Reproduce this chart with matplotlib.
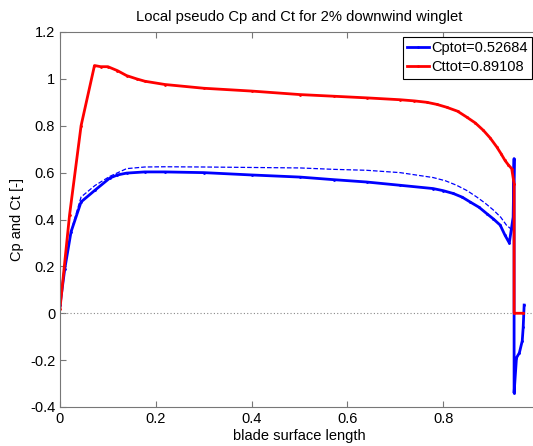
import numpy as np
from matplotlib import pyplot as plt
from matplotlib.ticker import FormatStrFormatter

plt.rcParams['font.family'] = ['Liberation Sans', 'DejaVu Sans']
plt.rcParams['font.size'] = 10

# local thrust coefficient along the blade surface
ct_x = [0, 0.02, 0.044, 0.072, 0.085, 0.10, 0.12, 0.139, 0.16, 0.177, 0.219, 0.30, 0.40,
        0.501, 0.571, 0.64, 0.71, 0.74, 0.766, 0.787, 0.807, 0.83, 0.849, 0.867, 0.884,
        0.898, 0.912, 0.921, 0.929, 0.936, 0.943, 0.948, 0.948, 0.967]
ct_y = [0.02, 0.42, 0.80, 1.057, 1.052, 1.052, 1.035, 1.014, 1.0, 0.99, 0.976, 0.96, 0.948,
        0.933, 0.926, 0.919, 0.911, 0.906, 0.90, 0.891, 0.879, 0.862, 0.837, 0.812, 0.78,
        0.748, 0.709, 0.68, 0.652, 0.633, 0.617, 0.553, 0.0, 0.0]

# local power coefficient
cp_x = [0, 0.01, 0.023, 0.044, 0.073, 0.104, 0.12, 0.139, 0.177, 0.219, 0.30, 0.40, 0.501,
        0.571, 0.64, 0.71, 0.779, 0.80, 0.821, 0.84, 0.856, 0.875, 0.891, 0.905, 0.919,
        0.929, 0.938, 0.946, 0.948, 0.948, 0.953, 0.959, 0.965, 0.967, 0.969]
cp_y = [0.035, 0.19, 0.347, 0.475, 0.525, 0.577, 0.59, 0.598, 0.603, 0.603, 0.60, 0.59, 0.581,
        0.570, 0.56, 0.546, 0.532, 0.523, 0.511, 0.495, 0.475, 0.452, 0.425, 0.402, 0.376,
        0.333, 0.30, 0.41, 0.66, -0.34, -0.19, -0.169, -0.118, -0.06, 0.035]

# reference Cp (no winglet), dashed
cpref_x = [0, 0.01, 0.023, 0.044, 0.073, 0.104, 0.139, 0.177, 0.219, 0.30, 0.40, 0.501,
           0.571, 0.64, 0.71, 0.779, 0.805, 0.828, 0.85, 0.87, 0.888, 0.905, 0.92, 0.932,
           0.943, 0.947]
cpref_y = [0.035, 0.19, 0.35, 0.496, 0.545, 0.584, 0.617, 0.624, 0.625, 0.624, 0.622, 0.62,
           0.614, 0.61, 0.60, 0.579, 0.565, 0.546, 0.523, 0.496, 0.469, 0.44, 0.41, 0.376,
           0.357, 0.45]

cp_tot = 0.52684
ct_tot = 0.89108

fig = plt.figure(figsize=(5.33, 4.46), dpi=100)
ax = fig.add_axes([60/533, 39/446, 479/533, 375/446])

ax.axhline(0, color='#888888', lw=0.8, ls=(0, (1, 2)))
ax.plot(cpref_x, cpref_y, color='blue', lw=0.9, ls='--')
ax.plot(cp_x, cp_y, color='blue', lw=2, marker='.', ms=2, label='Cptot=%.5f' % cp_tot)
ax.plot(ct_x, ct_y, color='red', lw=2, marker='.', ms=2, label='Cttot=%.5f' % ct_tot)

ax.set_xlim(0, 1)
ax.set_ylim(-0.4, 1.2)
ax.set_xticks([0, 0.2, 0.4, 0.6, 0.8])
ax.set_yticks(np.arange(-0.4, 1.21, 0.2))
ax.xaxis.set_major_formatter(FormatStrFormatter('%g'))
ax.yaxis.set_major_formatter(FormatStrFormatter('%g'))
ax.tick_params(direction='in', length=4, color='#777777', top=True, right=True, labelsize=10.5)
for s in ax.spines.values():
    s.set_color('#777777')

ax.set_title('Local pseudo Cp and Ct for 2% downwind winglet', pad=8, fontsize=10.6)
ax.set_xlabel('blade surface length', fontsize=10.5, labelpad=2)
ax.set_ylabel('Cp and Ct [-]', fontsize=10.5)

leg = ax.legend(loc='upper left', bbox_to_anchor=(403/533, 1 - 37/446),
                bbox_transform=fig.transFigure, fancybox=False, framealpha=1,
                handlelength=1.5, handletextpad=0.15, labelspacing=0.35,
                borderpad=0.3, borderaxespad=0, fontsize=10.5)
leg.get_frame().set_edgecolor('black')
leg.get_frame().set_linewidth(0.8)

fig.savefig('out.png', dpi=100)
